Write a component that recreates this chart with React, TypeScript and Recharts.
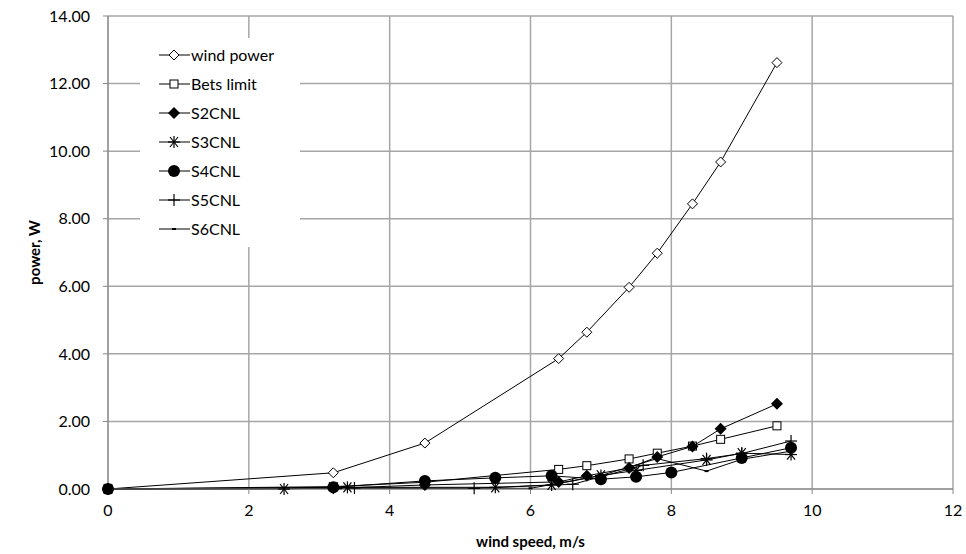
import React from "react";
import { LineChart, Line, XAxis, YAxis, CartesianGrid, Legend, Label } from "recharts";

// wind speed (m/s) and power (W) for each series
const windSpeed = [0, 3.2, 4.5, 6.4, 6.8, 7.4, 7.8, 8.3, 8.7, 9.5];
const windPower = [0, 0.48, 1.36, 3.86, 4.64, 5.97, 6.98, 8.44, 9.68, 12.62];
const betsLimit = [0, 0.07, 0.2, 0.58, 0.69, 0.89, 1.06, 1.27, 1.47, 1.87];

const s2Speed = [0, 3.2, 4.5, 6.4, 6.8, 7.4, 7.8, 8.3, 8.7, 9.5];
const s2Power = [0, 0.02, 0.12, 0.21, 0.39, 0.62, 0.95, 1.26, 1.78, 2.52];

const s3Speed = [0, 2.5, 3.4, 5.5, 6.3, 7.0, 7.5, 8.5, 9.0, 9.7];
const s3Power = [0, 0, 0.05, 0.05, 0.12, 0.4, 0.55, 0.86, 1.06, 1.02];

const s4Speed = [0, 3.2, 4.5, 5.5, 6.3, 7.0, 7.5, 8.0, 9.0, 9.7];
const s4Power = [0, 0.05, 0.24, 0.33, 0.39, 0.29, 0.36, 0.49, 0.92, 1.22];

const s5Speed = [0, 3.5, 5.2, 6.6, 7.6, 8.5, 9.0, 9.7];
const s5Power = [0, 0.03, 0.02, 0.14, 0.7, 0.9, 1.05, 1.42];

const s6Speed = [0, 3.3, 6.0, 7.0, 7.8, 8.5, 9.0, 9.7];
const s6Power = [0, 0.02, 0.02, 0.4, 0.9, 0.53, 0.88, 1.12];

const xTicks = [0, 2, 4, 6, 8, 10, 12];
const yTicks = [0, 2, 4, 6, 8, 10, 12, 14];

type Shape = "diamondOpen" | "square" | "diamond" | "star" | "circle" | "plus" | "dash";

const toPoints = (xs: number[], ys: number[]) => xs.map((x, i) => ({ x, y: ys[i] }));

const series: { name: string; shape: Shape; data: { x: number; y: number }[] }[] = [
  { name: "wind power", shape: "diamondOpen", data: toPoints(windSpeed, windPower) },
  { name: "Bets limit", shape: "square", data: toPoints(windSpeed, betsLimit) },
  { name: "S2CNL", shape: "diamond", data: toPoints(s2Speed, s2Power) },
  { name: "S3CNL", shape: "star", data: toPoints(s3Speed, s3Power) },
  { name: "S4CNL", shape: "circle", data: toPoints(s4Speed, s4Power) },
  { name: "S5CNL", shape: "plus", data: toPoints(s5Speed, s5Power) },
  { name: "S6CNL", shape: "dash", data: toPoints(s6Speed, s6Power) },
];

function Marker({ shape, cx, cy }: { shape: Shape; cx: number; cy: number }) {
  switch (shape) {
    case "diamondOpen":
      return (
        <path
          d={`M${cx},${cy - 5}L${cx + 5},${cy}L${cx},${cy + 5}L${cx - 5},${cy}Z`}
          fill="#fff"
          stroke="#000"
          strokeWidth={1}
        />
      );
    case "square":
      return <rect x={cx - 4} y={cy - 4} width={8} height={8} fill="#fff" stroke="#000" strokeWidth={1} />;
    case "diamond":
      return <path d={`M${cx},${cy - 6}L${cx + 6},${cy}L${cx},${cy + 6}L${cx - 6},${cy}Z`} fill="#000" />;
    case "star":
      return (
        <g stroke="#000" strokeWidth={1.2}>
          <line x1={cx - 6} y1={cy} x2={cx + 6} y2={cy} />
          <line x1={cx - 4} y1={cy - 5} x2={cx + 4} y2={cy + 5} />
          <line x1={cx - 4} y1={cy + 5} x2={cx + 4} y2={cy - 5} />
          <line x1={cx} y1={cy - 6} x2={cx} y2={cy + 6} />
        </g>
      );
    case "circle":
      return <circle cx={cx} cy={cy} r={6} fill="#000" />;
    case "plus":
      return (
        <g stroke="#000" strokeWidth={1.2}>
          <line x1={cx - 6} y1={cy} x2={cx + 6} y2={cy} />
          <line x1={cx} y1={cy - 6} x2={cx} y2={cy + 6} />
        </g>
      );
    default:
      return <line x1={cx - 2} y1={cy} x2={cx + 2} y2={cy} stroke="#000" strokeWidth={2} />;
  }
}

function LegendBox() {
  return (
    <div style={{ background: "#fff", width: 160, height: 207, paddingTop: 2 }}>
      {series.map((s) => (
        <div key={s.name} style={{ display: "flex", alignItems: "center", height: 29 }}>
          <svg width={52} height={16} style={{ marginLeft: 18 }}>
            <line x1={1} y1={8} x2={32} y2={8} stroke="#000" strokeWidth={1} />
            <Marker shape={s.shape} cx={16} cy={8} />
          </svg>
          <span style={{ marginLeft: -19, fontSize: 16, color: "#000" }}>{s.name}</span>
        </div>
      ))}
    </div>
  );
}

export default function App() {
  return (
    <div style={{ position: "absolute", left: 0, top: 0, width: 966, height: 554, background: "#fff", fontFamily: "Lato, 'Open Sans', sans-serif" }}>
      <LineChart width={966} height={554} margin={{ top: 16, right: 13, bottom: 20, left: 48 }}>
        <CartesianGrid stroke="#a6a6a6" strokeWidth={1.5} />
        <XAxis
          type="number"
          dataKey="x"
          domain={[0, 12]}
          ticks={xTicks}
          height={45}
          stroke="#868686"
          tickSize={5}
          tickMargin={11}
          tick={{ fill: "#000", fontSize: 16 }}
          allowDuplicatedCategory={false}
        >
          <Label value="wind speed, m/s" position="insideBottom" offset={-13} style={{ fontSize: 15, fontWeight: 700, fill: "#000" }} />
        </XAxis>
        <YAxis
          type="number"
          dataKey="y"
          domain={[0, 14]}
          ticks={yTicks}
          width={60}
          stroke="#868686"
          tickSize={5}
          tickMargin={13}
          tickFormatter={(v: number) => v.toFixed(2)}
          tick={{ fill: "#000", fontSize: 16 }}
        >
          <Label value="power, W" angle={-90} position="insideLeft" offset={-13} style={{ fontSize: 15, fontWeight: 700, fill: "#000", textAnchor: "middle" }} />
        </YAxis>
        <Legend
          layout="vertical"
          align="center"
          verticalAlign="middle"
          content={() => <LegendBox />}
          wrapperStyle={{ left: 140, top: 38, width: 160, height: 207 }}
        />
        {series.map((s) => (
          <Line
            key={s.name}
            name={s.name}
            data={s.data}
            dataKey="y"
            type="linear"
            stroke="#000"
            strokeWidth={1}
            isAnimationActive={false}
            dot={(p: any) => <Marker key={`${s.name}-${p.index}`} shape={s.shape} cx={p.cx} cy={p.cy} />}
            activeDot={false}
          />
        ))}
      </LineChart>
    </div>
  );
}
